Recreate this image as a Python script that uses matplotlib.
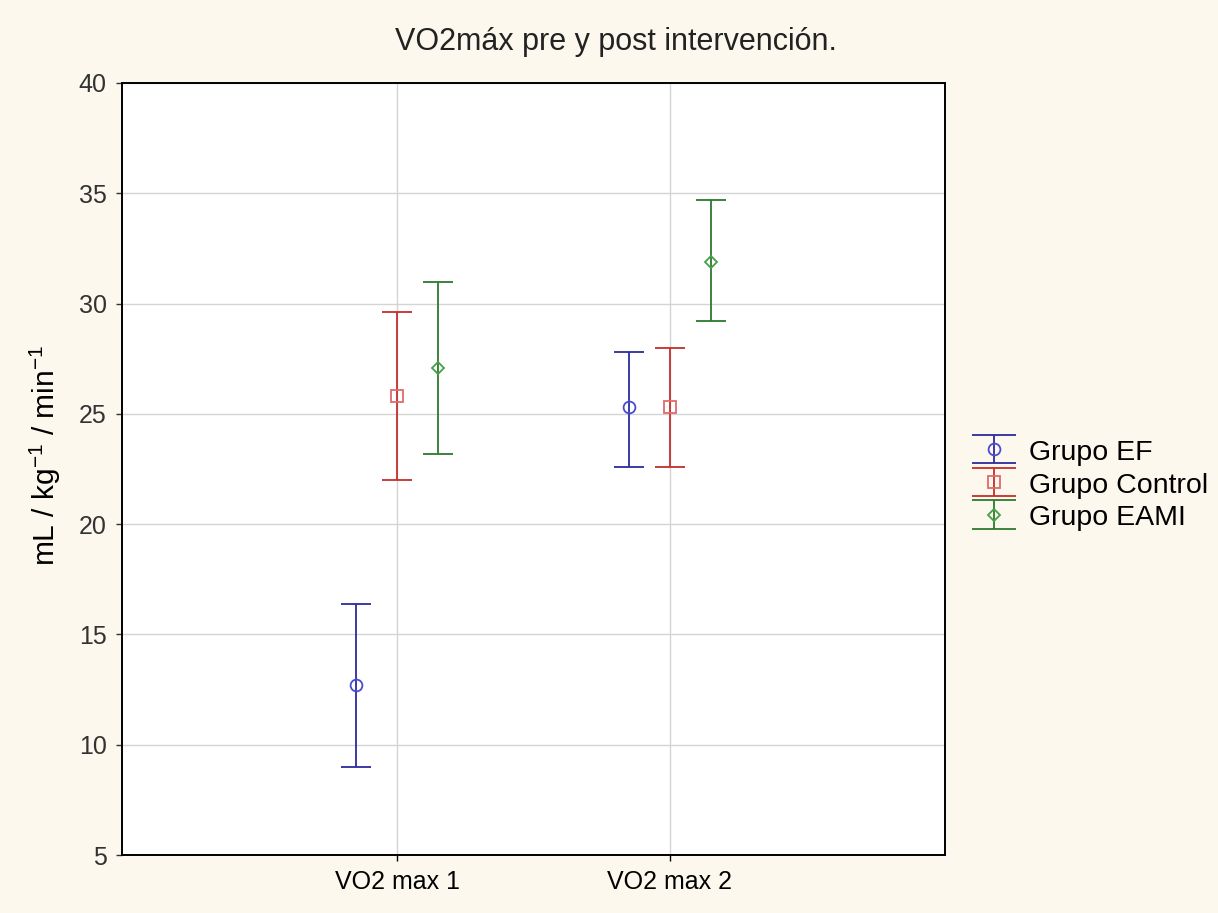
import matplotlib.pyplot as plt
from matplotlib.lines import Line2D
from matplotlib.legend_handler import HandlerErrorbar
import numpy as np

plt.rcParams['font.family'] = ['Liberation Sans', 'DejaVu Sans']

# data (mean, lower and upper whisker)
categories = ['VO2 max 1', 'VO2 max 2']
groups = ['Grupo EF', 'Grupo Control', 'Grupo EAMI']
means = {
    'Grupo EF': [12.7, 25.3],
    'Grupo Control': [25.8, 25.3],
    'Grupo EAMI': [27.1, 31.9],
}
lower = {
    'Grupo EF': [9.0, 22.6],
    'Grupo Control': [22.0, 22.6],
    'Grupo EAMI': [23.2, 29.2],
}
upper = {
    'Grupo EF': [16.4, 27.8],
    'Grupo Control': [29.6, 28.0],
    'Grupo EAMI': [31.0, 34.7],
}

line_colors = ['#2b2b9c', '#c42d2d', '#2c7a2c']
marker_colors = ['#4a4ad6', '#e06a6a', '#46a046']
markers = ['o', 's', 'D']
msizes = [8.5, 8, 6.5]
offsets = [-0.15, 0.0, 0.15]

bg = '#fcf8ed'
fig = plt.figure(figsize=(12.18, 9.13), dpi=100, facecolor=bg)
ax = fig.add_axes([0.1002, 0.0635, 0.6757, 0.8456])
ax.set_facecolor('white')

x = np.arange(len(categories))
for i, g in enumerate(groups):
    m = np.array(means[g])
    err = np.vstack([m - np.array(lower[g]), np.array(upper[g]) - m])
    ax.errorbar(x + offsets[i], m, yerr=err, fmt=markers[i], color=line_colors[i],
                mec=marker_colors[i], mfc='none', ms=msizes[i], mew=1.3,
                ecolor=line_colors[i], elinewidth=1.3, capsize=11, capthick=1.3,
                label=g, zorder=3)

ax.set_xlim(-1.01, 2.01)
ax.set_ylim(5, 40)
ax.set_xticks(x)
ax.set_xticklabels(categories)
ax.set_yticks(np.arange(5, 41, 5))
ax.tick_params(direction='out', length=4, width=1, labelsize=18, colors='black', pad=7)
ax.tick_params(axis='y', colors='#333333')
ax.grid(True, color='#d4d4d4', linewidth=1)
ax.set_axisbelow(True)
for s in ax.spines.values():
    s.set_linewidth(1.4)
    s.set_color('black')

ax.set_ylabel('mL / kg$^{\\mathregular{-1}}$ / min$^{\\mathregular{-1}}$', fontsize=21.5)
ax.yaxis.set_label_coords(-0.072, 0.517)

fig.text(0.506, 0.954, 'VO2máx pre y post intervención.', ha='center', va='center',
         fontsize=22, color='#222222')


# wider caps in the legend glyphs, like the original
def wide_caps(handle, orig):
    handle.update_from(orig)
    if isinstance(orig, Line2D) and orig.get_marker() == '_':
        handle.set_markersize(32)


ax.legend(loc='center left', bbox_to_anchor=(0.786, 0.469), bbox_transform=fig.transFigure,
          frameon=False, fontsize=20.5, handlelength=1.6, labelspacing=0.18,
          handletextpad=0.4, borderpad=0, handleheight=0.9,
          handler_map={type(ax.containers[0]): HandlerErrorbar(update_func=wide_caps)})

fig.savefig('out.png', dpi=100, facecolor=bg)
